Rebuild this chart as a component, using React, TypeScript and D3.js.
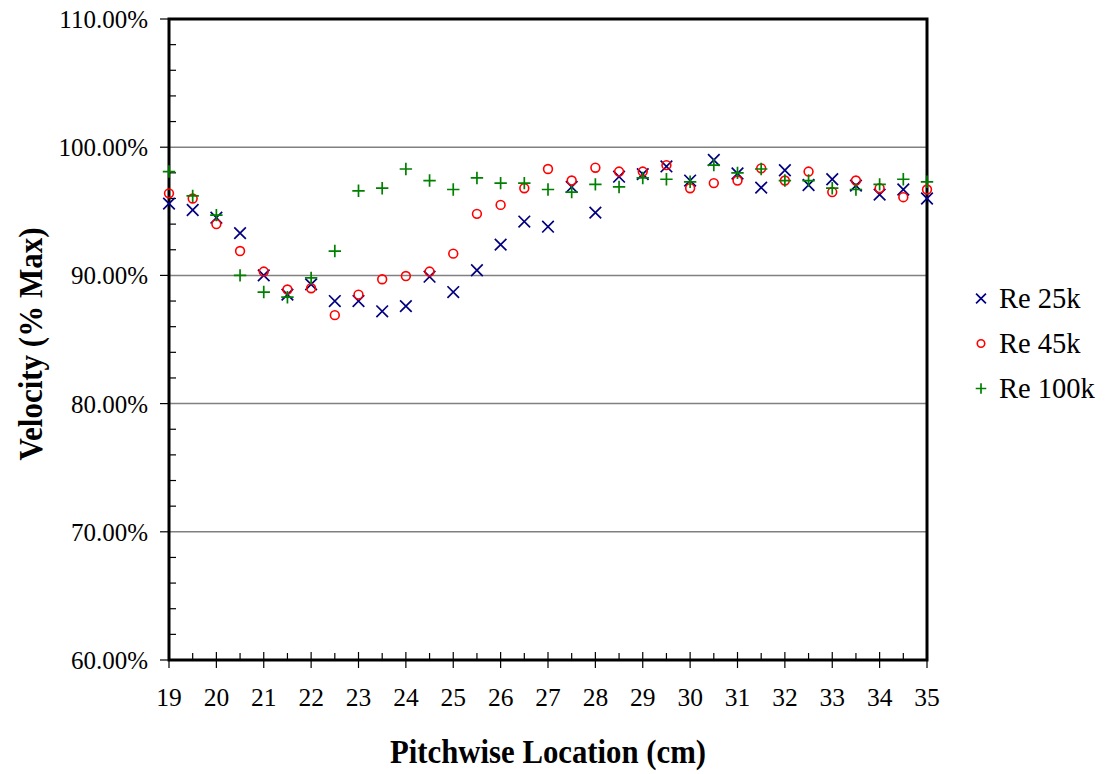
import React from "react";
import * as d3 from "d3";

const xPositions = [19, 19.5, 20, 20.5, 21, 21.5, 22, 22.5, 23, 23.5, 24, 24.5, 25, 25.5, 26, 26.5, 27, 27.5, 28, 28.5, 29, 29.5, 30, 30.5, 31, 31.5, 32, 32.5, 33, 33.5, 34, 34.5, 35];
const re25k = [95.6, 95.1, 94.5, 93.3, 90.0, 88.5, 89.3, 88.0, 88.0, 87.2, 87.6, 89.9, 88.7, 90.4, 92.4, 94.2, 93.8, 96.9, 94.9, 97.7, 97.9, 98.5, 97.4, 99.0, 97.95, 96.85, 98.2, 97.05, 97.5, 97.0, 96.3, 96.7, 96.0];
const re45k = [96.4, 96.0, 94.0, 91.9, 90.3, 88.9, 89.0, 86.9, 88.5, 89.7, 89.95, 90.3, 91.7, 94.8, 95.5, 96.8, 98.3, 97.4, 98.4, 98.1, 98.1, 98.6, 96.8, 97.2, 97.4, 98.35, 97.4, 98.1, 96.5, 97.4, 96.8, 96.1, 96.7];
const re100k = [98.1, 96.2, 94.7, 90.0, 88.7, 88.3, 89.8, 91.9, 96.6, 96.8, 98.3, 97.4, 96.7, 97.6, 97.2, 97.2, 96.7, 96.5, 97.1, 96.9, 97.6, 97.5, 97.3, 98.6, 98.0, 98.3, 97.4, 97.4, 96.8, 96.7, 97.1, 97.5, 97.3];
const seriesNames = ["Re 25k", "Re 45k", "Re 100k"];
const xTicks = [19, 20, 21, 22, 23, 24, 25, 26, 27, 28, 29, 30, 31, 32, 33, 34, 35];
const yTicks = [60, 70, 80, 90, 100, 110];

const FONT = "'Liberation Serif', 'Times New Roman', serif";

function Marker({ kind, x, y, s = 1 }: { kind: number; x: number; y: number; s?: number }) {
  if (kind === 0) {
    const h = 5.8 * s;
    return (
      <path d={`M${x - h},${y - h}L${x + h},${y + h}M${x - h},${y + h}L${x + h},${y - h}`} stroke="#000080" strokeWidth={1.7} fill="none" />
    );
  }
  if (kind === 1) {
    return <circle cx={x} cy={y} r={4.4 * s} stroke="#ff0000" strokeWidth={1.6} fill="none" />;
  }
  const h = 6.2 * s;
  return <path d={`M${x - h},${y}L${x + h},${y}M${x},${y - h}L${x},${y + h}`} stroke="#008000" strokeWidth={1.7} fill="none" />;
}

export default function App() {
  const W = 1108, H = 774;
  const left = 169, right = 927, top = 19, bottom = 660;
  const x = d3.scaleLinear().domain([19, 35]).range([left, right]);
  const y = d3.scaleLinear().domain([60, 110]).range([bottom, top]);
  const fmt = (v: number) => v.toFixed(2) + "%";
  const minorY = d3.range(60, 110.01, 2).filter((v) => v % 10 !== 0);
  const minorX = d3.range(19.5, 35, 1);
  const series = [re25k, re45k, re100k];

  return (
    <svg width={W} height={H} style={{ position: "absolute", left: 0, top: 0, background: "#fff" }}>
      {yTicks.filter((v) => v > 60 && v < 110).map((v) => (
        <line key={"g" + v} x1={left} x2={right} y1={y(v)} y2={y(v)} stroke="#808080" strokeWidth={1.5} />
      ))}
      {yTicks.map((v) => (
        <line key={"yt" + v} x1={left - 9} x2={left} y1={y(v)} y2={y(v)} stroke="#000" strokeWidth={1.2} />
      ))}
      {minorY.map((v) => (
        <line key={"ym" + v} x1={left} x2={left + 7} y1={y(v)} y2={y(v)} stroke="#000" strokeWidth={1.2} />
      ))}
      {yTicks.map((v) => (
        <text key={"yl" + v} x={148} y={y(v) + 9} textAnchor="end" fontFamily={FONT} fontSize={25} fill="#000">
          {fmt(v)}
        </text>
      ))}
      {xTicks.map((v) => (
        <line key={"xt" + v} x1={x(v)} x2={x(v)} y1={bottom - 8} y2={bottom + 8} stroke="#000" strokeWidth={1.2} />
      ))}
      {minorX.map((v) => (
        <line key={"xm" + v} x1={x(v)} x2={x(v)} y1={bottom - 7} y2={bottom} stroke="#000" strokeWidth={1.2} />
      ))}
      {xTicks.map((v) => (
        <text key={"xl" + v} x={x(v)} y={706} textAnchor="middle" fontFamily={FONT} fontSize={25.5} fill="#000">
          {v}
        </text>
      ))}
      <rect x={left} y={top} width={right - left} height={bottom - top} fill="none" stroke="#000" strokeWidth={3} />
      {series.map((s, si) =>
        s.map((v, i) => <Marker key={si + "-" + i} kind={si} x={x(xPositions[i])} y={y(v)} />)
      )}
      <text x={548} y={763} textAnchor="middle" fontFamily={FONT} fontWeight="bold" fontSize={34} fill="#000" textLength={316} lengthAdjust="spacingAndGlyphs">
        Pitchwise Location (cm)
      </text>
      <text transform={`translate(42,344) rotate(-90)`} textAnchor="middle" fontFamily={FONT} fontWeight="bold" fontSize={34} fill="#000" textLength={233} lengthAdjust="spacingAndGlyphs">
        Velocity (% Max)
      </text>
      {seriesNames.map((n, i) => (
        <g key={n}>
          <Marker kind={i} x={981} y={298.5 + i * 45} s={0.85} />
          <text x={999} y={308 + i * 45} fontFamily={FONT} fontSize={28.5} fill="#000">
            {n}
          </text>
        </g>
      ))}
    </svg>
  );
}
